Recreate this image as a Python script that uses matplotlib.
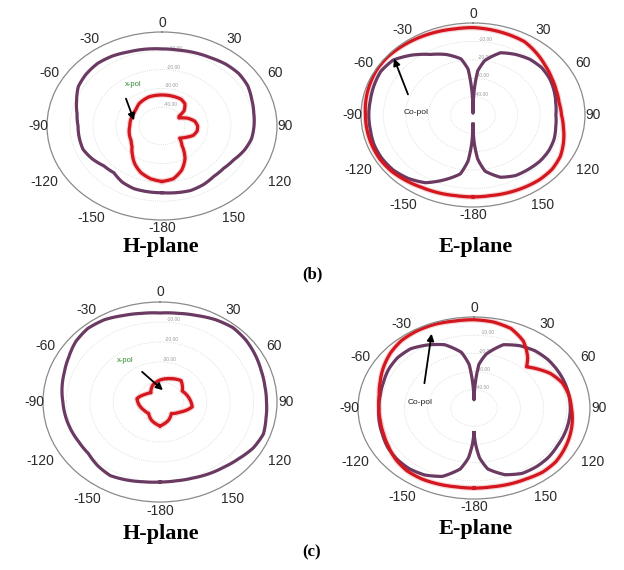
import numpy as np
import matplotlib
matplotlib.use("Agg")
import matplotlib.pyplot as plt
from matplotlib.patches import FancyArrowPatch

# ---------------- pattern data (dB, 0 dB at the outer ring) ----------------
ang10 = list(range(-180, 181, 10))
ang20 = list(range(-180, 181, 20))
null_ang = [-180, -178, -175, -170, -160, -150, -140, -130, -120, -110, -100, -90,
            -80, -70, -60, -50, -40, -30, -20, -10, -5, -2, 0, 2, 5, 10, 20, 30,
            40, 50, 60, 70, 80, 90, 100, 110, 120, 130, 140, 150, 160, 170, 175,
            178, 180]
notch_ang = list(range(-180, 41, 10)) + [45] + list(range(50, 181, 10))
hbx_ang = list(range(-180, 51, 10)) + [55] + list(range(60, 181, 10))

# (b) H-plane
hb_co = [-14.5, -14.5, -14.5, -15.5, -17.5, -17, -15, -13.5, -13.5, -13.5, -12.5,
         -10.5, -8, -7, -6.5, -7, -8, -8.5, -9, -9, -8.5, -8, -7, -6.5, -7, -8.5,
         -9.5, -10, -10.5, -12, -14, -15, -15, -14, -13.5, -14, -14.5]
hb_x = [-20.5, -21.5, -23.5, -26.5, -30, -33, -34.5, -35, -35.5, -36, -36, -36,
        -36, -35.5, -34.5, -34, -33.5, -33.5, -33.5, -33.5, -33.5, -33.5, -34.5,
        -37.5, -41, -41.5, -38, -35.5, -34.5, -34.5, -35.5, -38, -40, -36.5, -30,
        -25, -21.5, -20.5]

# (b) E-plane
eb_co = [-45, -35, -25, -17.5, -12.5, -7.5, -5, -3.5, -3, -3, -3.5, -3.5, -3.5,
         -3, -2.5, -3.5, -7.5, -12, -15, -19, -25, -37.5, -49, -37.5, -26, -20,
         -14, -12, -10.5, -10, -10.5, -11.5, -12.5, -13, -12.5, -11.5, -11, -11,
         -11.5, -12, -14, -19, -26, -35, -45]
eb_x = [-5.5, -5.5, -5, -4.5, -3.5, -2.5, -2, -2, -2, -2, -1.5, -1, -0.5, -0.5,
        -1, -1.5, -2, -2.5, -2.5, -3, -3.5, -4, -6, -8, -9.5, -10.5, -11, -10.5,
        -9, -7, -5, -4, -4, -4.5, -5, -5.5, -5.5]

# (c) H-plane
hc_co = [-10, -9.5, -8.5, -7.5, -8.5, -10, -10, -9.5, -9, -8.5, -7.5, -6.5, -5,
         -3, -2, -2.5, -4, -5, -5.5, -5, -4, -2.5, -1.5, -2, -3, -4, -4.5, -4.5,
         -4, -3, -4, -6, -7.5, -8.5, -9.5, -10, -10]
hc_x = [-38, -40, -42.5, -42, -41, -40, -42.5, -44, -41, -39, -37.5, -36, -39,
        -37.5, -36, -40, -42.5, -40, -38]

# (c) E-plane
ec_co = [-36.5, -30, -22.5, -16, -10, -7.5, -6.5, -6.5, -7, -8, -8.5, -9, -9,
         -8.5, -7.5, -7, -7.5, -10, -13, -19, -26, -37.5, -45.5, -37.5, -26, -20,
         -13, -10.5, -9, -8.5, -8.5, -8.5, -8.5, -8.5, -8.5, -8.5, -8.5, -8, -8,
         -8.5, -11, -16, -22.5, -30, -36.5]
ec_x = [-6, -6, -5.5, -5, -5, -6, -7.5, -8.5, -9, -9, -8.5, -7, -5, -3, -1.5, -1,
        -1, -1.5, -1.5, -2, -3.5, -7.5, -14, -18, -16, -12, -9.5, -8.5, -8, -7,
        -6, -5, -4, -4, -5, -5.5, -6, -6]

theta_ticks = [0, 30, 60, 90, 120, 150, 180, -150, -120, -90, -60, -30]
theta_labels = ["0", "30", "60", "90", "120", "150", "-180", "-150", "-120",
                "-90", "-60", "-30"]
r_levels = [-40, -30, -20, -10]
r_labels = ["-40.00", "-30.00", "-20.00", "-10.00"]

# nudges (pixels) for the angle labels, keyed by |angle|
label_nudge = {0: (0, 0), 30: (9, -3), 60: (3, 1), 90: (-3, 0), 120: (8, -4),
               150: (8, -2), 180: (0, 1)}

PURPLE = "#6a3a62"
RED = "#d4161e"
W, H = 624, 570

plt.rcParams["font.family"] = ["Liberation Sans", "DejaVu Sans"]
fig = plt.figure(figsize=(W / 100, H / 100), dpi=100)
fig.patch.set_facecolor("white")


def fpos(x, y):
    return x / W, 1 - y / H


def panel(cx, cy, a, b, curves):
    ax = fig.add_axes([(cx - a) / W, 1 - (cy + b) / H, 2 * a / W, 2 * b / H],
                      projection="polar")
    ax.set_theta_zero_location("N")
    ax.set_theta_direction(-1)
    ax.set_rlim(-50, 0)
    ax.set_aspect("auto")
    ax.set_facecolor("none")
    ax.set_xticks(np.deg2rad(np.arange(0, 360, 30)))
    ax.set_xticklabels([])
    ax.set_xticks(np.deg2rad(np.arange(0, 360, 5)), minor=True)
    ax.tick_params(axis="x", which="major", length=5, width=0.7, color="#8a8a8a",
                   direction="inout")
    ax.tick_params(axis="x", which="minor", length=2.5, width=0.6, color="#9a9a9a",
                   direction="out")
    ax.xaxis.grid(False)
    ax.set_rgrids(r_levels, labels=r_labels, angle=4, fontsize=3.5, color="#9a9a9a")
    ax.yaxis.grid(True, ls=":", lw=0.6, color="#d5d5d5")
    ax.spines["polar"].set_color("#8a8a8a")
    ax.spines["polar"].set_linewidth(0.9)
    for t, lab in zip(theta_ticks, theta_labels):
        dx, dy = label_nudge[abs(t)]
        ax.annotate(lab, xy=(np.deg2rad(t), 5), xytext=(np.sign(t) * dx, dy),
                    textcoords="offset pixels", ha="center", va="center",
                    fontsize=10, color="#2a2a2a", annotation_clip=False)
    for ang, vals, col in curves:
        th = np.deg2rad(ang)
        if col == RED:
            glow, = ax.plot(th, vals, color=col, lw=4.0, alpha=0.18)
            glow.get_path()._interpolation_steps = 24
        ln, = ax.plot(th, vals, color=col, lw=2.3, solid_joinstyle="round")
        ln.get_path()._interpolation_steps = 24
    return ax


panel(162, 126, 115, 94, [(ang10, hb_co, PURPLE), (hbx_ang, hb_x, RED)])
panel(473, 115, 112, 92, [(null_ang, eb_co, PURPLE), (ang10, eb_x, RED)])
panel(160, 402, 117, 100, [(ang10, hc_co, PURPLE), (ang20, hc_x, RED)])
panel(474, 408, 116, 91, [(null_ang, ec_co, PURPLE), (notch_ang, ec_x, RED)])

# panel captions
cap = dict(ha="center", va="center", fontsize=16, fontweight="bold",
           family=["Liberation Serif", "DejaVu Serif"])
fig.text(*fpos(161, 247), "H-plane", **cap)
fig.text(*fpos(476, 247), "E-plane", **cap)
fig.text(*fpos(312, 274), "(b)", **{**cap, "fontsize": 12})
fig.text(*fpos(161, 534), "H-plane", **cap)
fig.text(*fpos(476, 529), "E-plane", **cap)
fig.text(*fpos(312, 552), "(c)", **{**cap, "fontsize": 12})

# annotations
arrow = dict(arrowstyle="-|>", color="black", lw=1.3, mutation_scale=10)
fig.text(*fpos(133, 85), "x-pol", fontsize=5.5, color="#2e8b2e", ha="center",
         va="center")
fig.add_artist(FancyArrowPatch(fpos(125, 96), fpos(135, 123),
                               transform=fig.transFigure, **arrow))
fig.text(*fpos(416, 113), "Co-pol", fontsize=6, color="#222222", ha="center",
         va="center")
fig.add_artist(FancyArrowPatch(fpos(409, 97), fpos(393, 56),
                               transform=fig.transFigure, **arrow))
fig.text(*fpos(125, 360), "x-pol", fontsize=5.5, color="#2e8b2e", ha="center",
         va="center")
fig.add_artist(FancyArrowPatch(fpos(140, 370), fpos(165, 392),
                               transform=fig.transFigure, **arrow))
fig.text(*fpos(420, 402), "Co-pol", fontsize=6, color="#222222", ha="center",
         va="center")
fig.add_artist(FancyArrowPatch(fpos(424, 386), fpos(432, 331),
                               transform=fig.transFigure, **arrow))

fig.savefig("out.png", dpi=100, facecolor="white")
